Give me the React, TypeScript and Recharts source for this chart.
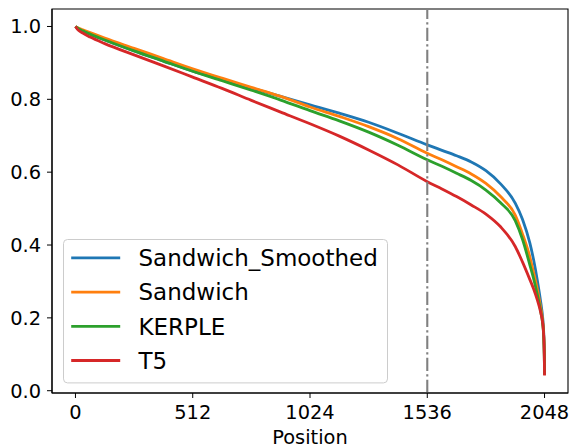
import React from 'react';
import { LineChart, Line, XAxis, YAxis, ReferenceLine, ReferenceArea } from 'recharts';

const positions = [0, 8, 32, 64, 128, 256, 384, 512, 640, 768, 896, 1024, 1152, 1280, 1408, 1536, 1600, 1664, 1728, 1792, 1856, 1920, 1952, 1984, 2000, 2016, 2032, 2040, 2044, 2046, 2047, 2048];

const sandwichSmoothed = [1.0, 0.996, 0.988, 0.979, 0.963, 0.933, 0.905, 0.877, 0.854, 0.831, 0.808, 0.785, 0.762, 0.737, 0.707, 0.675, 0.66, 0.645, 0.628, 0.604, 0.568, 0.515, 0.47, 0.405, 0.36, 0.305, 0.24, 0.2, 0.165, 0.13, 0.1, 0.044];
const sandwich = [1.0, 0.997, 0.991, 0.983, 0.968, 0.94, 0.912, 0.884, 0.858, 0.833, 0.808, 0.779, 0.753, 0.725, 0.692, 0.652, 0.634, 0.615, 0.595, 0.569, 0.533, 0.482, 0.43, 0.367, 0.325, 0.28, 0.225, 0.19, 0.158, 0.125, 0.097, 0.044];
const kerple = [1.0, 0.996, 0.988, 0.979, 0.963, 0.933, 0.905, 0.877, 0.851, 0.825, 0.798, 0.769, 0.741, 0.71, 0.674, 0.634, 0.616, 0.597, 0.577, 0.551, 0.516, 0.467, 0.415, 0.345, 0.308, 0.265, 0.215, 0.183, 0.152, 0.12, 0.093, 0.044];
const t5 = [1.0, 0.993, 0.982, 0.971, 0.953, 0.922, 0.892, 0.861, 0.83, 0.797, 0.765, 0.733, 0.699, 0.661, 0.62, 0.574, 0.554, 0.533, 0.51, 0.485, 0.45, 0.396, 0.353, 0.305, 0.28, 0.25, 0.213, 0.185, 0.155, 0.125, 0.095, 0.042];

const seriesNames = ['Sandwich_Smoothed', 'Sandwich', 'KERPLE', 'T5'];
const seriesKeys = ['smoothed', 'sandwich', 'kerple', 't5'];
const seriesColors = ['#1f77b4', '#ff7f0e', '#2ca02c', '#d62728'];
const seriesValues = [sandwichSmoothed, sandwich, kerple, t5];

const xTicks = [0, 512, 1024, 1536, 2048];
const yTicks = [0.0, 0.2, 0.4, 0.6, 0.8, 1.0];
const contextLength = 1536;
const xLabel = 'Position';

const data = positions.map((p, i) => {
  const row: Record<string, number> = { pos: p };
  seriesKeys.forEach((k, j) => {
    row[k] = seriesValues[j][i];
  });
  return row;
});

const FONT = '"DejaVu Sans", sans-serif';
const X_DOMAIN: [number, number] = [-102.4, 2150.4];
const Y_DOMAIN: [number, number] = [-0.0063, 1.048];

const XLabel = (props: any) => {
  const vb = props.viewBox || {};
  return (
    <text x={vb.x + vb.width / 2} y={vb.y + 51.3} textAnchor="middle" fontFamily={FONT} fontSize={19.4} fill="#000">
      {xLabel}
    </text>
  );
};

const LegendBox = () => (
  <svg width={326} height={146} style={{ position: 'absolute', left: 62.8, top: 238.8 }}>
    <rect x={0.5} y={0.5} width={324} height={143.4} rx={4} ry={4} fill="rgba(255,255,255,0.8)" stroke="#cccccc" strokeWidth={1} />
    {seriesNames.map((name, i) => {
      const cy = 18.9 + i * 34.2;
      return (
        <g key={name}>
          <line x1={8.2} x2={57.2} y1={cy} y2={cy} stroke={seriesColors[i]} strokeWidth={2.8} />
          <text x={75.5} y={cy + 8.2} fontFamily={FONT} fontSize={23} fill="#000">
            {name}
          </text>
        </g>
      );
    })}
  </svg>
);

export default function App() {
  return (
    <div style={{ position: 'absolute', left: 0, top: 0, width: 573, height: 448, background: '#fff' }}>
      <LineChart width={573} height={448} data={data} margin={{ top: 9, right: 5, bottom: 0, left: 0 }}>
        <XAxis
          dataKey="pos"
          type="number"
          domain={X_DOMAIN}
          ticks={xTicks}
          allowDataOverflow
          height={55}
          tickSize={5}
          tickMargin={7}
          stroke="#000"
          tick={{ fill: '#000', fontSize: 19.4, fontFamily: FONT }}
          tickLine={{ stroke: '#000' }}
          axisLine={{ stroke: '#000', strokeWidth: 1.1 }}
          label={<XLabel />}
        />
        <YAxis
          type="number"
          domain={Y_DOMAIN}
          ticks={yTicks}
          allowDataOverflow
          width={52}
          tickSize={5}
          tickMargin={6}
          tickFormatter={(v: number) => v.toFixed(1)}
          tick={{ fill: '#000', fontSize: 19.4, fontFamily: FONT }}
          tickLine={{ stroke: '#000' }}
          axisLine={{ stroke: '#000', strokeWidth: 1.1 }}
        />
        <ReferenceArea
          x1={X_DOMAIN[0]}
          x2={X_DOMAIN[1]}
          y1={Y_DOMAIN[0]}
          y2={Y_DOMAIN[1]}
          fill="none"
          fillOpacity={0}
          stroke="#000"
          strokeWidth={1.1}
          ifOverflow="visible"
        />
        {seriesKeys.map((k, i) => (
          <Line
            key={k}
            dataKey={k}
            name={seriesNames[i]}
            type="monotone"
            stroke={seriesColors[i]}
            strokeWidth={2.8}
            dot={false}
            isAnimationActive={false}
          />
        ))}
        <ReferenceLine x={contextLength} stroke="#808080" strokeWidth={2.1} strokeDasharray="13.3 3.3 2.1 3.3" />
      </LineChart>
      <LegendBox />
    </div>
  );
}
